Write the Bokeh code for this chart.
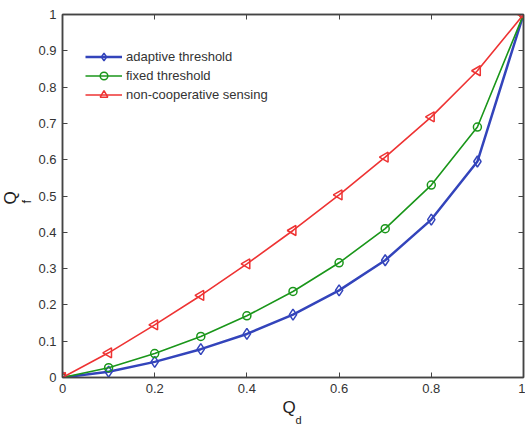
import math
from bokeh.plotting import figure
from bokeh.models import LinearAxis, FixedTicker, Legend, Title
from bokeh.embed import file_html
from bokeh.resources import INLINE

qd = [0.0, 0.1, 0.2, 0.3, 0.4, 0.5, 0.6, 0.7, 0.8, 0.9, 1.0]
adaptive = [0.0, 0.016, 0.043, 0.078, 0.120, 0.173, 0.240, 0.323, 0.435, 0.595, 1.0]
fixed = [0.0, 0.027, 0.066, 0.113, 0.170, 0.237, 0.316, 0.410, 0.530, 0.690, 1.0]
noncoop = [0.0, 0.068, 0.145, 0.226, 0.313, 0.405, 0.503, 0.607, 0.718, 0.845, 1.0]

x_ticks = [0, 0.2, 0.4, 0.6, 0.8, 1.0]
y_ticks = [0, 0.1, 0.2, 0.3, 0.4, 0.5, 0.6, 0.7, 0.8, 0.9, 1.0]
x_tick_labels = ["0", "0.2", "0.4", "0.6", "0.8", "1"]
y_tick_labels = ["0", "0.1", "0.2", "0.3", "0.4", "0.5", "0.6", "0.7", "0.8", "0.9", "1"]

FONT = "Liberation Sans"
AX = "#444444"
TXT = "#333333"

p = figure(width=525, height=424, x_range=(0, 1), y_range=(0, 1),
           output_backend="svg", toolbar_location=None,
           min_border_left=62, min_border_right=2, min_border_top=14, min_border_bottom=47,
           x_axis_location=None, y_axis_location=None)
p.grid.visible = False
p.outline_line_color = AX
p.outline_line_width = 1.5
p.background_fill_color = "white"
p.border_fill_color = "white"

def style_axis(ax, ticks, labels, show_labels):
    ax.ticker = FixedTicker(ticks=ticks)
    ax.minor_tick_line_color = None
    ax.major_tick_in = 5
    ax.major_tick_out = 0
    ax.major_tick_line_color = AX
    ax.axis_line_color = AX
    ax.axis_line_width = 1.5
    if show_labels:
        ax.major_label_overrides = {t: l for t, l in zip(ticks, labels)}
        ax.major_label_text_font = FONT
        ax.major_label_text_font_size = "13px"
        ax.major_label_text_color = TXT
        ax.major_label_standoff = 6
    else:
        ax.major_label_overrides = {t: "" for t in ticks}
        ax.major_label_text_font_size = "1px"
        ax.major_label_standoff = 0

bx = LinearAxis(); style_axis(bx, x_ticks, x_tick_labels, True); p.add_layout(bx, "below")
ly = LinearAxis(); style_axis(ly, y_ticks, y_tick_labels, True); p.add_layout(ly, "left")
tx = LinearAxis(); style_axis(tx, x_ticks, x_tick_labels, False); p.add_layout(tx, "above")
ry = LinearAxis(); style_axis(ry, y_ticks, y_tick_labels, False); p.add_layout(ry, "right")

BLUE = "#3344bb"
GREEN = "#1a961a"
RED = "#ee3333"

l1 = p.line(qd, adaptive, line_color=BLUE, line_width=2.5)
m1 = p.scatter(qd, adaptive, marker="diamond", size=11, fill_color=None, line_color=BLUE, line_width=1.5)
l2 = p.line(qd, fixed, line_color=GREEN, line_width=1.6)
m2 = p.scatter(qd, fixed, marker="circle", size=8, fill_color=None, line_color=GREEN, line_width=1.5)
l3 = p.line(qd, noncoop, line_color=RED, line_width=1.6)
m3 = p.scatter(qd, noncoop, marker="triangle", angle=math.pi / 2, size=10, fill_color=None, line_color=RED, line_width=1.5)

legend = Legend(items=[("adaptive threshold", [l1, m1]),
                       ("fixed threshold", [l2, m2]),
                       ("non-cooperative sensing", [l3, m3])],
                location=(23, 273), border_line_color=None, background_fill_alpha=0,
                padding=0, margin=0, spacing=0, glyph_width=37, glyph_height=19,
                label_height=19, label_standoff=4,
                label_text_font=FONT, label_text_font_size="13px", label_text_color=TXT)
p.add_layout(legend, "center")

# axis titles with subscripts, as side-panel titles (not clipped to the frame)
def ttl(text, size, side, offset, standoff):
    p.add_layout(Title(text=text, align="left", offset=offset, standoff=standoff,
                       text_font=FONT, text_font_size=size, text_font_style="normal",
                       text_color="#222222"), side)

ttl("Q", "17px", "below", 220, 1)
ttl("d", "11px", "below", 233, -16)
ttl("f", "13px", "left", 174, 4)
ttl("Q", "17px", "left", 173, -10)

open("out.html", "w").write(file_html(p, INLINE))
